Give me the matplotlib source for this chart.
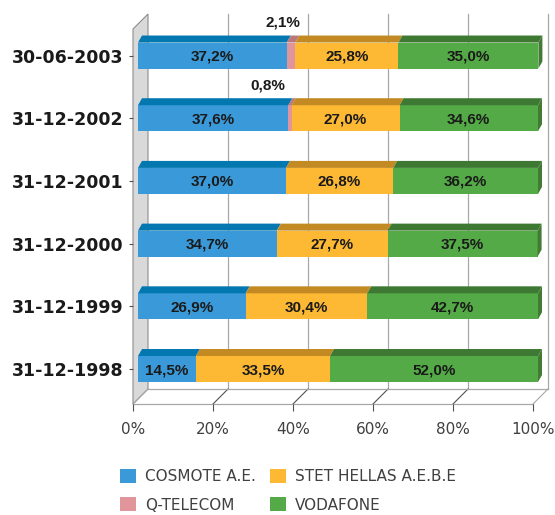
import matplotlib.pyplot as plt
from matplotlib.patches import Polygon, Patch

dates = ['31-12-1998', '31-12-1999', '31-12-2000', '31-12-2001', '31-12-2002', '30-06-2003']
cosmote = [14.5, 26.9, 34.7, 37.0, 37.6, 37.2]
qtelecom = [0.0, 0.0, 0.0, 0.0, 0.8, 2.1]
stet = [33.5, 30.4, 27.7, 26.8, 27.0, 25.8]
vodafone = [52.0, 42.7, 37.5, 36.2, 34.6, 35.0]
series_names = ['COSMOTE A.E.', 'Q-TELECOM', 'STET HELLAS A.E.B.E', 'VODAFONE']
xticks = [0, 20, 40, 60, 80, 100]

front_cols = ['#3A9AD9', '#E0959B', '#FDB934', '#54AA46']
top_cols = ['#0377B0', '#B9777C', '#C38A24', '#3E7933']
side_col = '#427C34'

narrow = ['Liberation Sans Narrow', 'Liberation Sans', 'DejaVu Sans']


def pct(v):
    return ('%.1f' % v).replace('.', ',') + '%'


fig = plt.figure(figsize=(5.55, 5.15), dpi=100)
ax = fig.add_axes([133 / 555, 111 / 515, 400 / 555, 375 / 515])
ymin, ymax = -0.558, 5.423
ax.set_xlim(0, 100)
ax.set_ylim(ymin, ymax)
for s in ax.spines.values():
    s.set_visible(False)

# pixel -> data scale
sx = 100 / ax.bbox.width
sy = (ymax - ymin) / ax.bbox.height

# 3d box (depth 15px)
ddx, ddy = 15 * sx, 15 * sy
grid_c = '#A8A8A8'
ax.add_patch(Polygon([(0, ymin), (ddx, ymin + ddy), (ddx, ymax + ddy), (0, ymax)],
                     closed=True, fc='#D9D9D9', ec='#8C8C8C', lw=0.8, clip_on=False, zorder=1))
for t in xticks:
    if t > 0:
        ax.plot([t + ddx, t + ddx], [ymin + ddy, ymax + ddy], color=grid_c, lw=0.9,
                clip_on=False, zorder=1)
    c = '#505050' if 0 < t < 100 else grid_c
    ax.plot([t, t + ddx], [ymin, ymin + ddy], color=c, lw=0.8, clip_on=False, zorder=1)
ax.plot([0, 100], [ymin, ymin], color=grid_c, lw=0.9, clip_on=False, zorder=1)
ax.plot([ddx, 100 + ddx], [ymin + ddy, ymin + ddy], color=grid_c, lw=0.9, clip_on=False, zorder=1)

# bars
bx = 5 * sx
tdx, tdy = 4 * sx, 7 * sy
h = 26 * sy
series = [cosmote, qtelecom, stet, vodafone]
lefts = [0.0] * len(dates)
for k, vals in enumerate(series):
    ax.barh(range(len(dates)), vals, left=[l + bx for l in lefts], height=h,
            color=front_cols[k], lw=0, zorder=3, clip_on=False)
    for i, v in enumerate(vals):
        if v <= 0:
            continue
        l = lefts[i] + bx
        r = l + v
        top = i + h / 2
        ax.add_patch(Polygon([(l, top), (r, top), (r + tdx, top + tdy), (l + tdx, top + tdy)],
                             closed=True, fc=top_cols[k], lw=0, zorder=3, clip_on=False))
        if k == len(series) - 1:
            ax.add_patch(Polygon([(r, i - h / 2), (r, top), (r + tdx, top + tdy),
                                  (r + tdx, i - h / 2 + tdy)],
                                 closed=True, fc=side_col, lw=0, zorder=3, clip_on=False))
        if k == 1:
            nudge = -21 if v < 1 else -4
            ax.text(l + nudge * sx, i + 33 * sy, pct(v), ha='center', va='center',
                    fontsize=11, fontweight='bold', family=narrow, color='#1A1A1A', zorder=5)
        else:
            ax.text(l + v / 2, i - 1 * sy, pct(v), ha='center', va='center',
                    fontsize=11, fontweight='bold', family=narrow, color='#1A1A1A', zorder=5)
    lefts = [a + b for a, b in zip(lefts, vals)]

ax.set_yticks(range(len(dates)))
ax.set_yticklabels(dates, fontsize=12.5, fontweight='bold', color='#1A1A1A')
ax.set_xticks(xticks)
ax.set_xticklabels(['%d%%' % t for t in xticks], fontsize=11, color='#404040')
ax.tick_params(axis='y', length=3, width=0.8, color='#505050', pad=4)
ax.tick_params(axis='x', length=5, width=0.8, color='#505050', pad=8)

handles = [Patch(fc=c, ec='none') for c in front_cols]
fig.legend(handles, series_names, ncol=2, loc='upper left', frameon=False,
           bbox_to_anchor=(120 / 555, 1 - 469 / 515), borderaxespad=0, borderpad=0,
           fontsize=11, handlelength=1.05, handleheight=1.05, handletextpad=0.6,
           columnspacing=0.9, labelspacing=0.85, labelcolor='#404040')

fig.savefig('out.png', dpi=100)
